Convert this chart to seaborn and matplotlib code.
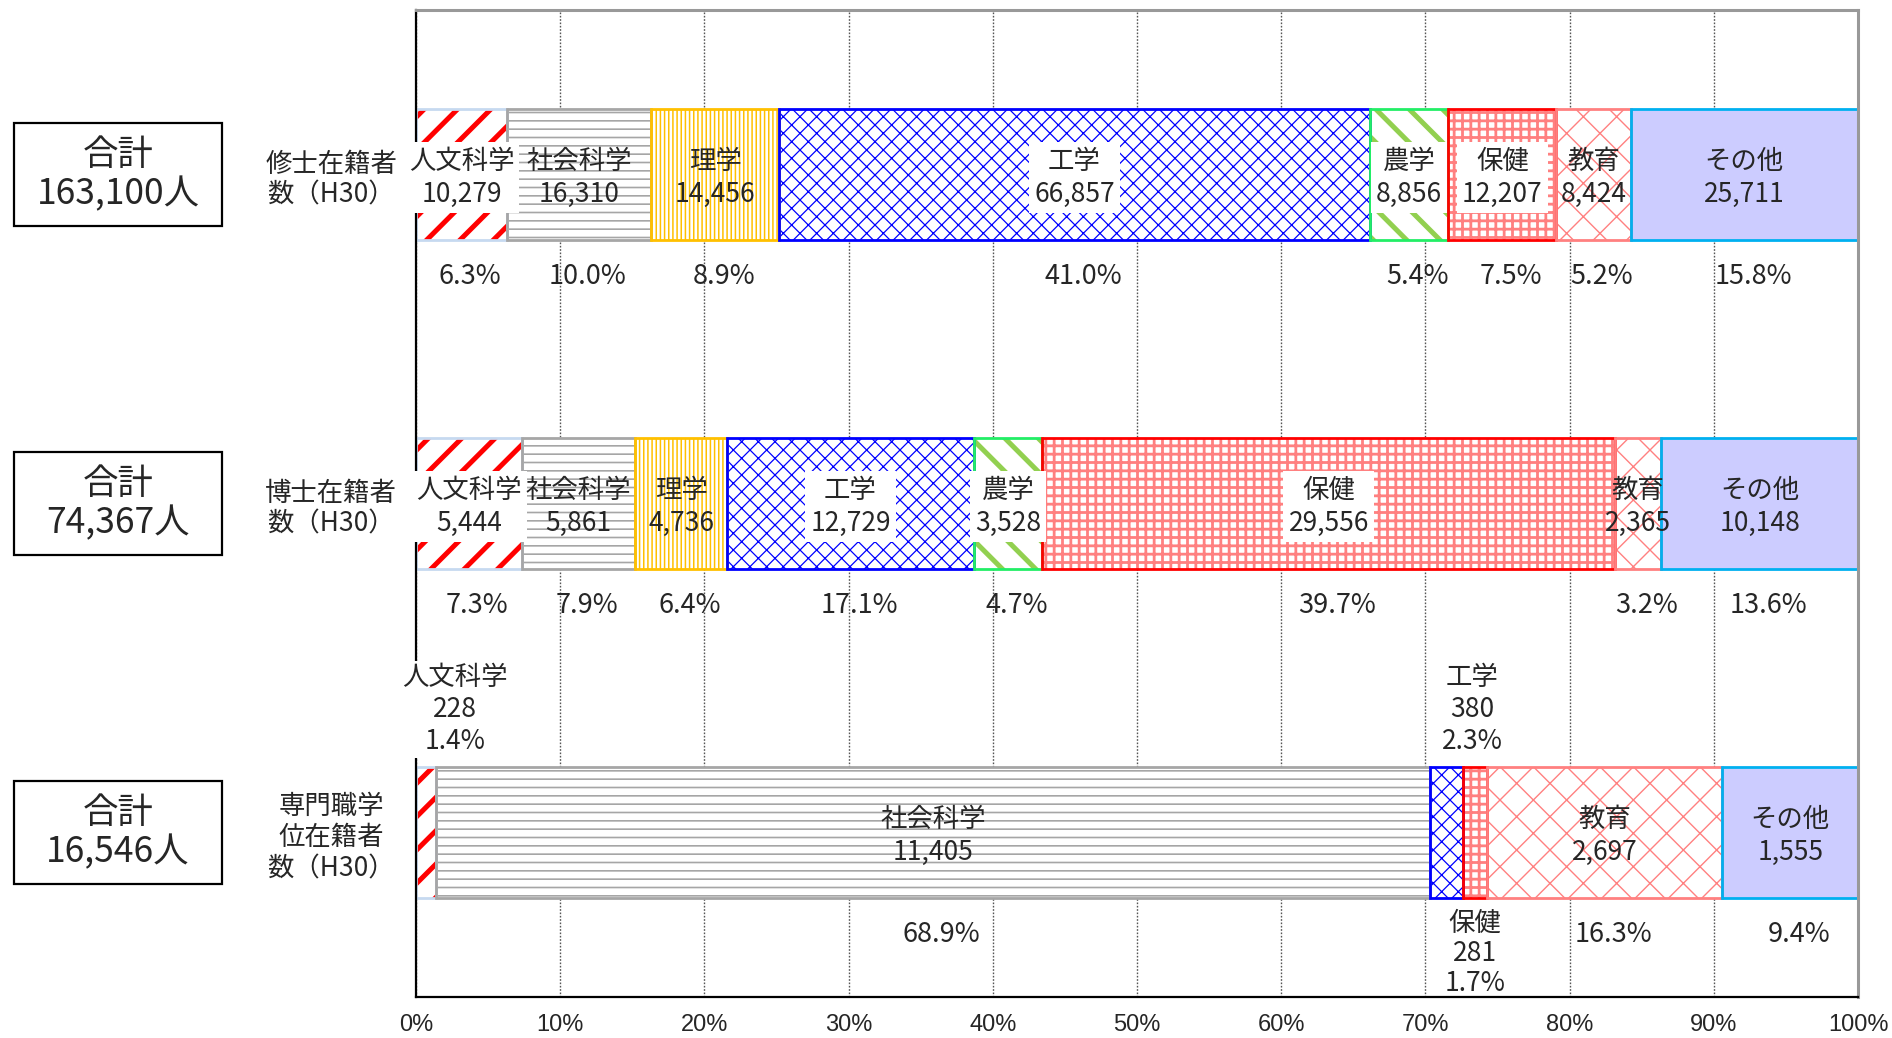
import numpy as np
import matplotlib
matplotlib.use("Agg")
import matplotlib.pyplot as plt
import seaborn as sns
from matplotlib import font_manager
from matplotlib.patches import Rectangle
from matplotlib.transforms import blended_transform_factory

# ---------------- data ----------------
groups = ["修士在籍者\n数（H30）", "博士在籍者\n数（H30）", "専門職学\n位在籍者\n数（H30）"]
fields = ["人文科学", "社会科学", "理学", "工学", "農学", "保健", "教育", "その他"]
master = [10279, 16310, 14456, 66857, 8856, 12207, 8424, 25711]
doctor = [5444, 5861, 4736, 12729, 3528, 29556, 2365, 10148]
prof = [228, 11405, 0, 380, 0, 281, 2697, 1555]
master_pct = [6.3, 10.0, 8.9, 41.0, 5.4, 7.5, 5.2, 15.8]
doctor_pct = [7.3, 7.9, 6.4, 17.1, 4.7, 39.7, 3.2, 13.6]
prof_pct = [1.4, 68.9, 0.0, 2.3, 0.0, 1.7, 16.3, 9.4]
totals = ["163,100", "74,367", "16,546"]
xticks = [0, 10, 20, 30, 40, 50, 60, 70, 80, 90, 100]
xtick_labels = ["0%", "10%", "20%", "30%", "40%", "50%", "60%", "70%", "80%", "90%", "100%"]

# ---------------- styles ----------------
styles = {
    "人文科学": dict(face="white", hatch="/", hcolor="#ff0000", hlw=3.6, edge="#c6d9f0", box=True),
    "社会科学": dict(face="white", hatch="--", hcolor="#a6a6a6", hlw=1.2, edge="#a6a6a6", box=False),
    "理学": dict(face="white", hatch="||||", hcolor="#ffc000", hlw=1.1, edge="#ffc000", box=False),
    "工学": dict(face="white", hatch="xx", hcolor="#0000ff", hlw=0.9, edge="#0000ff", box=True),
    "農学": dict(face="white", hatch="\\", hcolor="#92d050", hlw=3.6, edge="#22ee66", box=True),
    "保健": dict(face="white", hatch="++", hcolor="#ff8080", hlw=2.0, edge="#ff0000", box=True),
    "教育": dict(face="white", hatch="x", hcolor="#ff8080", hlw=1.0, edge="#ff8080", box=False),
    "その他": dict(face="#ccccff", hatch="", hcolor="#ccccff", hlw=1.0, edge="#00b0f0", box=False),
}
# labels placed outside the bar (group index, field) -> (side, x offset in %)
outside = {(2, "人文科学"): ("above", 2.0), (2, "工学"): ("above", 1.8), (2, "保健"): ("below", 0.0)}

sns.set_theme(style="white")
plt.rcParams["font.family"] = ["Noto Sans CJK JP", "DejaVu Sans"]
plt.rcParams["hatch.linewidth"] = 1.0

names_installed = {f.name for f in font_manager.fontManager.ttflist}
tick_family = "Liberation Sans Narrow" if "Liberation Sans Narrow" in names_installed else "Liberation Sans"

W, H = 1892, 1038
fig = plt.figure(figsize=(W / 100, H / 100), dpi=100)
ax = fig.add_axes([416 / W, 41 / H, 1442 / W, 987 / H])

counts = np.array([master, doctor, prof], dtype=float)
pcts = np.array([master_pct, doctor_pct, prof_pct])
shares = counts / counts.sum(axis=1, keepdims=True) * 100
lefts = np.cumsum(shares, axis=1) - shares

# hatch / fill layer
for k, f in enumerate(fields):
    st = styles[f]
    n0 = len(ax.patches)
    with plt.rc_context({"hatch.linewidth": st["hlw"]}):
        sns.barplot(x=shares[:, k], y=groups, orient="h", left=lefts[:, k], width=0.4,
                    color=st["face"], saturation=1, errorbar=None, edgecolor=st["hcolor"],
                    linewidth=0, hatch=st["hatch"], ax=ax, zorder=2)
    for p in ax.patches[n0:]:
        if hasattr(p, "set_hatch_linewidth"):
            p.set_hatch_linewidth(st["hlw"])
        if p.get_width() <= 0:
            p.set_visible(False)

# outline layer
for k, f in enumerate(fields):
    st = styles[f]
    n0 = len(ax.patches)
    sns.barplot(x=shares[:, k], y=groups, orient="h", left=lefts[:, k], width=0.4,
                color=st["edge"], saturation=1, errorbar=None, facecolor="none",
                edgecolor=st["edge"], linewidth=2.0, ax=ax, zorder=2.2)
    for p in ax.patches[n0:]:
        if p.get_width() <= 0:
            p.set_visible(False)

ax.set_xlim(0, 100)
ax.set_ylim(2.5, -0.5)
ax.set_xlabel("")
ax.set_ylabel("")

# grid & spines
ax.set_axisbelow(True)
ax.xaxis.grid(True, color="#555555", linestyle=(0, (1.2, 1.2)), linewidth=1.0)
ax.yaxis.grid(False)
ax.set_xticks(xticks)
ax.set_xticklabels(xtick_labels, family=[tick_family, "DejaVu Sans"], fontsize=17)
ax.tick_params(axis="x", length=0, pad=12)
for s in ["left", "bottom"]:
    ax.spines[s].set_color("black")
    ax.spines[s].set_linewidth(1.6)
for s in ["top", "right"]:
    ax.spines[s].set_color("#999999")
    ax.spines[s].set_linewidth(2.2)

ax.tick_params(axis="y", which="major", length=0, pad=61, labelsize=19)
for lbl in ax.get_yticklabels():
    lbl.set_ha("center")
    lbl.set_multialignment("center")
ax.set_yticks([0.5, 1.5], minor=True)
ax.tick_params(axis="y", which="minor", direction="in", length=6, width=1.3, color="black")

# labels
for g in range(len(groups)):
    for k, f in enumerate(fields):
        v = counts[g, k]
        if v <= 0:
            continue
        xc = lefts[g, k] + shares[g, k] / 2
        st = styles[f]
        if (g, f) in outside:
            side, dx = outside[(g, f)]
            if side == "above":
                ax.text(xc + dx, g - 0.235, f"{f}\n{int(v):,}\n{pcts[g, k]:.1f}%",
                        ha="center", va="bottom", fontsize=19, linespacing=1.25, zorder=5,
                        bbox=dict(boxstyle="square,pad=0.1", fc="white", ec="none"))
            else:
                ax.text(xc + dx, g + 0.235, f"{f}\n{int(v):,}\n{pcts[g, k]:.1f}%",
                        ha="center", va="top", fontsize=19, linespacing=1.15, zorder=5)
            continue
        bbox = dict(boxstyle="square,pad=0.2", fc="white", ec="none") if st["box"] else None
        ax.text(xc, g + 0.01, f"{f}\n{int(v):,}", ha="center", va="center", fontsize=19,
                linespacing=1.3, zorder=5, bbox=bbox)
        ax.text(xc + 0.6, g + 0.31, f"{pcts[g, k]:.1f}%", ha="center", va="center",
                fontsize=19.5, zorder=5)

# total boxes on the left
blend = blended_transform_factory(fig.transFigure, ax.transData)
for g, t in enumerate(totals):
    rect = Rectangle((14 / W, g - 0.158), 208 / W, 0.316, transform=blend, fill=False,
                     edgecolor="black", linewidth=1.6, clip_on=False)
    fig.add_artist(rect)
    fig.text(118 / W, g, f"合計\n{t}人", transform=blend, ha="center", va="center",
             fontsize=25.5, linespacing=1.12)

fig.savefig("out.png", dpi=100)
